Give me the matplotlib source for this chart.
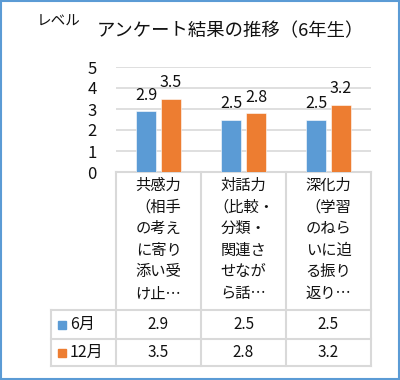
import numpy as np
import matplotlib
matplotlib.use("Agg")
from matplotlib import pyplot as plt
from matplotlib.patches import Rectangle

plt.rcParams['font.family'] = ['Noto Sans CJK JP', 'DejaVu Sans']

title = "アンケート結果の推移（6年生）"
ylabel = "レベル"
categories = [
    "共感力\n（相手\nの考え\nに寄り\n添い受\nけ止…",
    "対話力\n（比較・\n分類・\n関連さ\nせなが\nら話…",
    "深化力\n（学習\nのねら\nいに迫\nる振り\n返り…",
]
series_names = ["6月", "12月"]
june = [2.9, 2.5, 2.5]
december = [3.5, 2.8, 3.2]
yticks = [0, 1, 2, 3, 4, 5]

colors = ["#5B9BD5", "#ED7D31"]
grid_c = "#D9D9D9"
txt_c = "#111111"
W, H = 400, 380

fig = plt.figure(figsize=(W / 100, H / 100), dpi=100)

# overlay in pixel coords for frame, table, texts
ov = fig.add_axes([0, 0, 1, 1])
ov.set_xlim(0, W)
ov.set_ylim(H, 0)
ov.axis("off")

# chart axes: x 116..371, y 67..172
ax = fig.add_axes([116 / W, 1 - 172 / H, 255 / W, 105 / H])
x = np.arange(len(categories))
bw = 0.224
off = 0.147
for vals, c, dx in [(june, colors[0], -off), (december, colors[1], off)]:
    bars = ax.bar(x + dx, vals, bw, color=c, edgecolor="white", linewidth=0.4, zorder=3)
    for b, v in zip(bars, vals):
        ax.text(b.get_x() + b.get_width() / 2, v + 0.55, "%.1f" % v,
                ha="center", va="baseline", fontsize=11.5, color=txt_c)
ax.set_xlim(-0.5, 2.5)
ax.set_ylim(0, 5)
ax.set_yticks(yticks)
ax.set_yticklabels([str(t) for t in yticks], fontsize=12, color=txt_c)
ax.set_xticks([])
ax.tick_params(axis="y", length=0, pad=14)
ax.grid(axis="y", color=grid_c, linewidth=1.2, zorder=0)
for s in ax.spines.values():
    s.set_visible(False)
ax.set_facecolor("none")

# outer frame
ov.add_patch(Rectangle((1, 1), W - 2.5, H - 2.5, fill=False, edgecolor="#5B9BD5", linewidth=1.5))

# title texts
ov.text(230, 31, title, ha="center", va="center", fontsize=13.2, color=txt_c)
ov.text(37, 22, ylabel, ha="left", va="center", fontsize=10.5, color=txt_c)

# data table
cols = [116, 201, 286, 371]
tl = 51
rows = [172, 310, 339, 366]
lw = 1.5
for cx in cols:
    ov.plot([cx, cx], [rows[0], rows[3]], color=grid_c, linewidth=lw)
ov.plot([tl, tl], [rows[1], rows[3]], color=grid_c, linewidth=lw)
ov.plot([cols[0], cols[3]], [rows[0], rows[0]], color=grid_c, linewidth=lw)
for ry in rows[1:]:
    ov.plot([tl, cols[3]], [ry, ry], color=grid_c, linewidth=lw)

for i, cat in enumerate(categories):
    cx = (cols[i] + cols[i + 1]) / 2
    for j, line in enumerate(cat.split("\n")):
        ov.text(cx, 185 + j * 21.7, line, ha="center", va="center", fontsize=11, color=txt_c)

for r, (name, vals, c) in enumerate(zip(series_names, [june, december], colors)):
    cy = (rows[r + 1] + rows[r + 2]) / 2
    ov.add_patch(Rectangle((58, cy - 4), 8, 8, color=c))
    ov.text(70, cy, name, ha="left", va="center", fontsize=11.5, color=txt_c)
    for i, v in enumerate(vals):
        ov.text((cols[i] + cols[i + 1]) / 2, cy, "%.1f" % v, ha="center", va="center",
                fontsize=11, color=txt_c)

fig.savefig("out.png", dpi=100)
